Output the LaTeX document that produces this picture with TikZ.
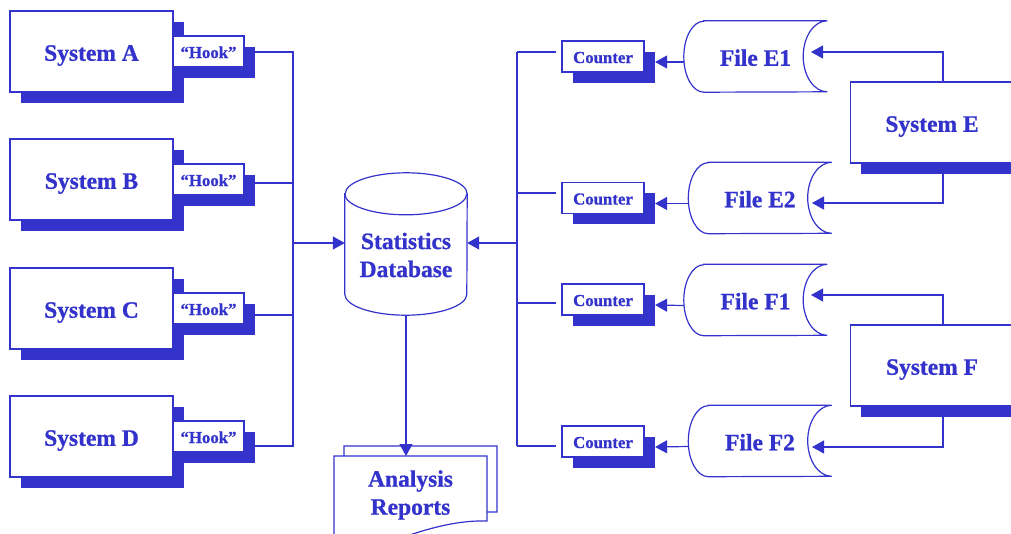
\documentclass[tikz,border=0pt]{standalone}
\usepackage{fontspec}
\setmainfont{Liberation Serif}[BoldFont={Liberation Serif Bold},BoldFeatures={FakeBold=0.8}]
\usetikzlibrary{arrows.meta,shadows,backgrounds}
\definecolor{ink}{RGB}{51,51,204}

% sequential file: rounded left end, hollow right end
\newcommand\tapefile[1]{%
  \draw[link] ([xshift=20pt]#1.north west) -- (#1.north east)
    arc[start angle=90,end angle=270,x radius=24pt,y radius=35.5pt]
    -- ([xshift=20pt]#1.south west)
    arc[start angle=270,end angle=90,x radius=20pt,y radius=35.5pt] -- cycle;}

\begin{document}
\begin{tikzpicture}[x=1pt,y=1pt,
  link/.style={draw=ink, line width=1.2pt},
  outline/.style={link, fill=white},
  arr/.style={link, -{Triangle[length=12pt,width=13pt]}},
  bigtext/.style={text=ink, font=\bfseries\fontsize{23.5}{28}\selectfont, align=center},
  oneline/.style={bigtext, text height=18.5pt, text depth=0pt},
  smalltext/.style={text=ink, font=\bfseries\fontsize{16.8}{20}\selectfont, text height=13pt, text depth=0pt},
  dropshade/.style={drop shadow={shadow xshift=10.5pt, shadow yshift=-10.5pt, fill=ink, draw=none, opacity=1}},
  sysbox/.style={outline, dropshade, oneline, inner sep=0pt, minimum width=163pt, minimum height=81pt},
  tagbox/.style={outline, dropshade, smalltext, inner sep=0pt, minimum height=31pt},
  hookbox/.style={tagbox, minimum width=71pt},
  countbox/.style={tagbox, minimum width=82pt},
  filebox/.style={oneline, inner sep=0pt, minimum width=143pt, minimum height=71pt},
]
\useasboundingbox (0,0) rectangle (1011,-533);
\clip (0,0) rectangle (1011,-533);

% source systems with their hooks
\node[sysbox] (sA) at (91.5,-51.5) {System A};
\node[hookbox] (hA) at (208.5,-51.5) {``Hook''};
\node[sysbox] (sB) at (91.5,-179.5) {System B};
\node[hookbox] (hB) at (208.5,-179.5) {``Hook''};
\node[sysbox] (sC) at (91.5,-308.5) {System C};
\node[hookbox] (hC) at (208.5,-308.5) {``Hook''};
\node[sysbox] (sD) at (91.5,-436.5) {System D};
\node[hookbox] (hD) at (208.5,-436.5) {``Hook''};

% database cylinder
\node[inner sep=0pt, minimum width=122pt, minimum height=142pt] (db) at (406,-244) {};
\draw[outline] ([yshift=-21pt]db.north west) -- ([yshift=21pt]db.south west)
  arc[start angle=180,end angle=360,x radius=61pt,y radius=21pt]
  -- ([yshift=-21pt]db.north east)
  arc[start angle=0,end angle=180,x radius=61pt,y radius=21pt] -- cycle;
\draw[link] ([yshift=-21pt]db.north west)
  arc[start angle=180,end angle=360,x radius=61pt,y radius=21pt];
\node[bigtext] (dbl) at (406,-255) {Statistics\\Database};

% report stack
\draw[outline] (344,-560) -- (344,-446) -- (497,-446) -- (497,-512)
  .. controls (465,-511) and (430,-521) .. (390,-537) -- cycle;
\draw[outline] (334,-560) -- (334,-456) -- (487,-456) -- (487,-521)
  .. controls (455,-520) and (420,-530) .. (380,-546) -- cycle;
\coordinate (rtop) at (410.5,-456);
\node[bigtext] (rep) at (410.5,-495) {Analysis\\Reports};
\draw[arr] (db.south) -- (db.south |- rtop);

% counters and files
\node[countbox] (cE1) at (603,-56.5) {Counter};
\node[countbox] (cE2) at (603,-198) {Counter};
\node[countbox] (cF1) at (603,-299.5) {Counter};
\node[countbox] (cF2) at (603,-441.5) {Counter};

\node[filebox] (fE1) at (755.5,-56.5) {File E1};
\node[filebox] (fE2) at (760,-198) {File E2};
\node[filebox] (fF1) at (755.5,-300) {File F1};
\node[filebox] (fF2) at (760,-441) {File F2};
\tapefile{fE1}\tapefile{fE2}\tapefile{fF1}\tapefile{fF2}

\node[sysbox] (sE) at (932,-122.5) {System E};
\node[sysbox] (sF) at (932,-365.5) {System F};

% files feed the counters
\draw[arr] ([yshift=-5.5pt]fE1.west) -- ([xshift=10.5pt,yshift=-5.5pt]cE1.east);
\draw[arr] ([yshift=-5.5pt]fE2.west) -- ([xshift=10.5pt,yshift=-5.5pt]cE2.east);
\draw[arr] ([yshift=-5.5pt]fF1.west) -- ([xshift=10.5pt,yshift=-5.5pt]cF1.east);
\draw[arr] ([yshift=-5.5pt]fF2.west) -- ([xshift=10.5pt,yshift=-5.5pt]cF2.east);

\coordinate (tE1) at (811,-52);
\coordinate (tE2) at (812,-203);
\coordinate (tF1) at (811,-295);
\coordinate (tF2) at (812,-447);

% bus lines
\coordinate (bA) at (293,-52);
\coordinate (bB) at (293,-183);
\coordinate (bC) at (293,-315);
\coordinate (bD) at (293,-446);
\coordinate (bM) at (293,-243);
\coordinate (rE1) at (517,-52);
\coordinate (rE2) at (517,-193);
\coordinate (rF1) at (517,-303);
\coordinate (rF2) at (517,-446);
\coordinate (rM) at (517,-243);

\begin{pgfonlayer}{background}
  \draw[link] (bA -| hA.east) -- (bA) -- (bD) -- (bD -| hD.east);
  \draw[link] (bB -| hB.east) -- (bB);
  \draw[link] (bC -| hC.east) -- (bC);
  \draw[link] (rE1) -- (rF2);
  \draw[link, shorten >=5pt] (rE1) -- (rE1 -| cE1.west);
  \draw[link, shorten >=5pt] (rE2) -- (rE2 -| cE2.west);
  \draw[link, shorten >=5pt] (rF1) -- (rF1 -| cF1.west);
  \draw[link, shorten >=5pt] (rF2) -- (rF2 -| cF2.west);
  \draw[arr] ([xshift=11pt]sE.north) |- (tE1);
  \draw[arr] ([xshift=11pt]sE.south) |- (tE2);
  \draw[arr] ([xshift=11pt]sF.north) |- (tF1);
  \draw[arr] ([xshift=11pt]sF.south) |- (tF2);
\end{pgfonlayer}
\draw[arr] (bM) -- (bM -| db.west);
\draw[arr] (rM) -- (rM -| db.east);
\end{tikzpicture}
\end{document}
